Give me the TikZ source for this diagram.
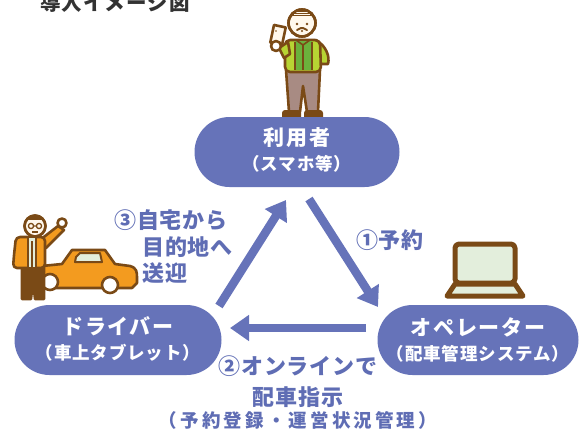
\documentclass[tikz,border=0pt]{standalone}
\usepackage{fontspec}
\usetikzlibrary{arrows.meta}
\newfontfamily\jpmain[LetterSpace=8]{Noto Sans CJK JP}
\newfontfamily\jpsub[LetterSpace=5]{Noto Sans CJK JP}
\newfontfamily\jplabel[LetterSpace=4]{Noto Sans CJK JP}
\newfontfamily\jpwide[LetterSpace=17]{Noto Sans CJK JP}
\definecolor{pillblue}{HTML}{6673B9}
\definecolor{labelblue}{HTML}{5F6DB4}
\definecolor{ink}{HTML}{7A4A16}
\definecolor{face}{HTML}{FFF8EC}
\definecolor{jacketgreen}{HTML}{B7D433}
\definecolor{shirtgreen}{HTML}{6BB13C}
\definecolor{pants}{HTML}{A88B83}
\definecolor{carorange}{HTML}{F39B1F}
\definecolor{palegreen}{HTML}{E3EEDC}
\definecolor{titlegray}{HTML}{333333}
\tikzset{
  pill/.style={fill=pillblue, rounded corners=35pt, minimum height=70pt, inner sep=0pt},
  maintext/.style={text=white, inner sep=0pt, font=\jpmain\bfseries\fontsize{21}{21}\selectfont},
  subtext/.style={text=white, inner sep=0pt, font=\jpsub\bfseries\fontsize{17.5}{17.5}\selectfont},
  flowarrow/.style={draw=pillblue, line width=8.5pt,
    -{Triangle[length=19pt,width=25pt]}},
  steplabel/.style={text=labelblue, inner sep=0pt, font=\jplabel\bfseries\fontsize{22}{26.5}\selectfont},
  outline/.style={draw=ink, line width=2.6pt, line join=round, line cap=round}
}
\begin{document}
\begin{tikzpicture}[x=1pt,y=-1pt]
\useasboundingbox (0,0) rectangle (579,432);

% heading (runs off the top edge)
\node[anchor=base, text=titlegray, inner sep=0pt,
  font=\jpsub\bfseries\fontsize{20.5}{20.5}\selectfont] (title) at (115,10) {導入イメージ図};

% ---- user with smartphone ----
% pants
\path[outline, fill=pants] (286,70) -- (320,70) -- (318,112) -- (307,112)
  -- (303,86) -- (300,112) -- (289,112) -- cycle;
% shoes
\path[fill=ink, rounded corners=3pt] (282,110) rectangle (301,120);
\path[fill=ink, rounded corners=3pt] (304,110) rectangle (323,120);
% right arm
\path[outline, fill=jacketgreen] (316,40) .. controls (326,46) and (330,56) .. (328,64)
  -- (321,64) -- cycle;
% jacket
\path[outline, fill=jacketgreen, rounded corners=5pt] (285,40) -- (320,40) -- (321,72) -- (285,72) -- cycle;
% shirt
\path[fill=shirtgreen] (295,41) rectangle (312,70);
\draw[ink, line width=1.8pt] (295,42) -- (295,70) (303,44) -- (303,70) (312,42) -- (312,70);
\draw[ink, line width=1.6pt] (296,40) -- (303,45) -- (310,40);
% left arm to the hand
\path[outline, fill=jacketgreen] (288,42) -- (279,48) -- (284,58) -- (290,54) -- cycle;
% phone
\path[outline, fill=face, rotate around={-12:(278,35)}] (272,26) rectangle (284,44);
\fill[ink] (276,31) circle (0.8pt);
% hand
\path[outline, fill=white] (276,46) circle (5pt);
% head
\path[outline, fill=face] (302,23) circle (13.5pt);
\begin{scope}
  \clip (302,23) circle (13.5pt);
  \fill[ink] (288,5) rectangle (316,16);
  \draw[face, line width=1pt] (295,12) -- (309,12) (294,14.5) -- (310,14.5);
\end{scope}
\draw[ink, line width=2.6pt] (302,23) circle (13.5pt);
\fill[ink] (297,24) circle (1.4pt) (307,24) circle (1.4pt);
\draw[ink, line width=2pt, line cap=round] (297,30) -- (301,28) -- (303,28) -- (307,30);
\fill[ink] (302,31) circle (1.2pt);

% ---- driver with car ----
% car body
\path[outline, fill=carorange] (42,288) -- (42,266) -- (62,264) -- (72,250) -- (105,250)
  -- (115,264) -- (130,266) .. controls (137,268) and (137,272) .. (137,278)
  -- (137,283) -- (132,288) -- cycle;
% window
\path[outline, fill=palegreen, line width=2pt] (76,257) -- (80,253) -- (100,253) -- (102,262) -- (75,262) -- cycle;
% wheels
\path[outline, fill=white] (110,285) circle (8pt);
\path[outline, fill=white] (50,282) circle (8pt);
% driver legs
\path[outline, fill=ink] (22,266) -- (44,266) -- (44,299) -- (35,299) -- (33,280) -- (31,299) -- (22,299) -- cycle;
% driver raised arm
\path[outline, fill=carorange] (40,240) -- (58,226) -- (64,230) -- (46,248) -- cycle;
\path[outline, fill=white] (62,223) circle (4.5pt);
% driver jacket
\path[outline, fill=carorange, rounded corners=4pt] (16,237) -- (45,237) -- (45,268) -- (13,268) -- (14,255) -- cycle;
\path[fill=palegreen] (28,238) rectangle (36,267);
\draw[ink, line width=1.6pt] (28,238) -- (28,267) (36,238) -- (36,267) (32,241) -- (32,267);
% driver head
\path[outline, fill=face] (35,226) circle (10.5pt);
\begin{scope}
  \clip (35,226) circle (10.5pt);
  \fill[ink] (22,212) rectangle (48,220);
\end{scope}
\draw[ink, line width=2.4pt] (35,226) circle (10.5pt);
\draw[ink, line width=1.3pt] (31,226) circle (2.6pt) (39,226) circle (2.6pt) (33.6,226) -- (36.4,226);
\draw[ink, line width=1.4pt] (32,232) -- (38,232);

% ---- laptop ----
\path[outline, fill=palegreen, line width=5pt, rounded corners=4pt] (455,244) rectangle (515,283);
\path[outline, fill=palegreen, line width=5pt] (455,284) -- (515,284) -- (523,296) -- (447,296) -- cycle;

% ---- parties ----
\node[pill, minimum width=205pt] (user) at (297,152) {};
\node[maintext] (userA) at ([yshift=14pt]user.center) {利用者};
\node[subtext] (userB) at ([yshift=-12pt]user.center) {（スマホ等）};

\node[pill, minimum width=207pt] (driver) at (118,340) {};
\node[maintext] (driverA) at ([yshift=14pt]driver.center) {ドライバー};
\node[subtext] (driverB) at ([yshift=-13pt]driver.center) {（車上タブレット）};

\node[pill, minimum width=201pt] (operator) at (478,340) {};
\node[maintext] (operatorA) at ([yshift=13pt]operator.center) {オペレーター};
\node[subtext] (operatorB) at ([yshift=-14pt]operator.center) {（配車管理システム）};

% ---- flow arrows ----
\coordinate (a1s) at (309,199);
\coordinate (a1e) at (378,307);
\coordinate (a2s) at (366,328);
\coordinate (a2e) at (230,328);
\coordinate (a3s) at (219,306);
\coordinate (a3e) at (286,200);
\draw[flowarrow] (a1s) -- (a1e);
\draw[flowarrow] (a2s) -- (a2e);
\draw[flowarrow] (a3s) -- (a3e);

% ---- step labels ----
\node[steplabel] (l1) at (390,240) {①予約};
\node[steplabel, anchor=west] (l3a) at (114,220) {③自宅から};
\node[steplabel, anchor=west] (l3b) at (142,247) {目的地へ};
\node[steplabel, anchor=west] (l3c) at (142,273) {送迎};
\node[steplabel] (l2a) at (298,366) {②オンラインで};
\node[steplabel] (l2b) at (298,397) {配車指示};
\node[text=labelblue, inner sep=0pt, font=\jpwide\bfseries\fontsize{18.5}{18.5}\selectfont] (l2c) at (298,420)
  {（予約登録・運営状況管理）};
\end{tikzpicture}
\end{document}
